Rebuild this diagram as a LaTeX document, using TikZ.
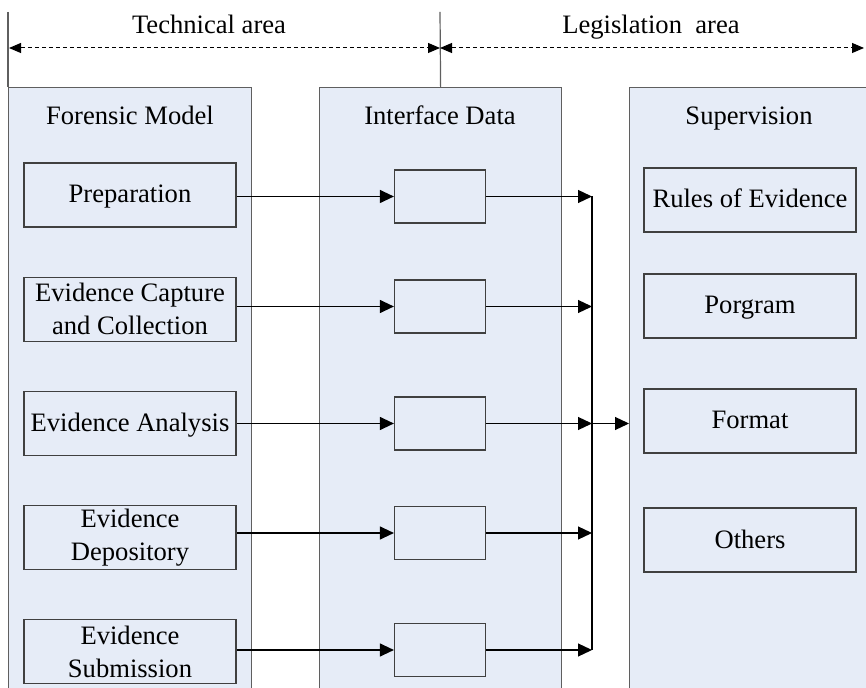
\documentclass[tikz,border=0pt]{standalone}
\usepackage{fontspec}
\setmainfont{Liberation Serif}
\usetikzlibrary{arrows.meta,positioning}
\definecolor{panel}{RGB}{230,236,247}
\definecolor{edge}{RGB}{95,95,95}

\begin{document}
\begin{tikzpicture}[x=0.5pt,y=-0.5pt,>={Triangle[length=7pt,width=6.5pt]}]
\tikzstyle{T}=[font=\fontsize{13.3}{16.5}\selectfont,inner sep=0pt,align=center]
\tikzstyle{C}=[draw=edge,fill=panel,line width=0.6pt,anchor=north west,minimum height=320pt]
\tikzstyle{B}=[T,draw=black!75,fill=panel,line width=0.6pt,minimum width=106pt,minimum height=32pt]
\tikzstyle{S}=[text height=10pt,text depth=2pt]
\tikzstyle{D}=[draw=black!75,fill=panel,line width=0.6pt,minimum width=45.5pt,minimum height=26.5pt,inner sep=0pt]
\tikzstyle{A}=[dash pattern=on 2pt off 1.5pt,line width=0.5pt,{Triangle[length=6pt,width=5pt]}-{Triangle[length=6pt,width=5pt]}]
\useasboundingbox (0,0) rectangle (866,688);
\clip (0,0) rectangle (866,688);
% columns
\node[C,minimum width=121.5pt] (fm) at (8,87) {};
\node[C,minimum width=121pt] (id) at (319,87) {};
\node[C,minimum width=130pt] (sv) at (629,87) {};
\node[T,anchor=base] (fmh) at (130,125) {Forensic Model};
\node[T,anchor=base] (idh) at (440,125) {Interface Data};
\node[T,anchor=base] (svh) at (749,125) {Supervision};
% areas on top
\draw[edge,line width=0.6pt] (8,12) -- (fm.north west);
\draw[edge,line width=0.6pt] (440,12) -- (id.north);
\coordinate (tl) at (9,48); \coordinate (tm) at (440,48); \coordinate (tr) at (864,48);
\draw[A] (tl) -- (tm);
\draw[A] (tm) -- (tr);
\node[T,anchor=base] (ta) at (209,34) {Technical area};
\node[T,anchor=base] (la) at (651,34) {Legislation\ \ area};
% forensic model
\node[B,S] (p1) at (130,195) {Preparation};
\node[B,below=24.5pt of p1] (p2) {Evidence Capture\\and Collection};
\node[B,S,below=24.5pt of p2] (p3) {Evidence Analysis};
\node[B,below=24.5pt of p3] (p4) {Evidence\\Depository};
\node[B,below=24.5pt of p4] (p5) {Evidence\\Submission};
% interface data
\node[D] (d1) at (440,196.5) {};
\node[D] (d2) at (440,306.5) {};
\node[D] (d3) at (440,423.5) {};
\node[D] (d4) at (440,533) {};
\node[D] (d5) at (440,650) {};
% supervision
\node[B,S] (s1) at (750,200) {Rules of Evidence};
\node[B,S] (s2) at (750,306) {Porgram};
\node[B,S] (s3) at (750,421) {Format};
\node[B,S] (s4) at (750,540) {Others};
\coordinate (bus) at (592,423.5);
\foreach \i in {1,...,5} {
  \draw[->,line width=0.6pt] (p\i.east |- d\i.west) -- (d\i.west);
  \draw[->,line width=0.6pt] (d\i.east) -- (d\i.east -| bus);
}
\draw[line width=0.6pt] (d1.east -| bus) -- (d5.east -| bus);
\draw[->,line width=0.6pt] (bus) -- (bus -| sv.west);
\end{tikzpicture}
\end{document}
